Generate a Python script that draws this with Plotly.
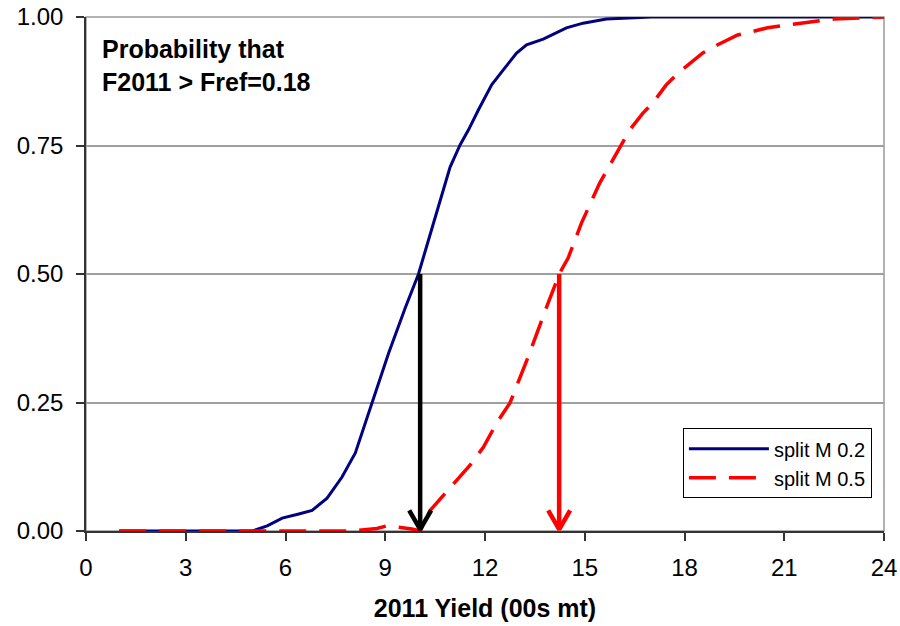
import plotly.graph_objects as go

# Cumulative probability that F2011 exceeds Fref, by 2011 yield (00s mt)
yield_m02 = [1, 2, 3, 4, 5, 5.45, 5.9, 6.4, 6.8, 7.25, 7.7, 8.1, 8.6, 9.1, 9.6,
             10.0, 10.25, 10.65, 10.95, 11.25, 11.5, 11.8, 12.2, 12.55, 12.95,
             13.25, 13.75, 14.45, 14.95, 15.65, 16.45, 17, 18, 19, 20, 21, 22, 23, 24]
prob_m02 = [0, 0, 0, 0, 0, 0.01, 0.025, 0.033, 0.04, 0.064, 0.105, 0.152, 0.249,
            0.346, 0.434, 0.5, 0.555, 0.644, 0.708, 0.751, 0.78, 0.819, 0.868,
            0.897, 0.93, 0.946, 0.957, 0.979, 0.988, 0.996, 0.999, 1, 1, 1, 1, 1, 1, 1, 1]

yield_m05 = [1, 2, 3, 4, 5, 6, 7, 8, 8.75, 9.05, 9.8, 10.05, 10.35, 10.85, 11.55,
             11.95, 12.35, 12.75, 13.3, 13.9, 14.25, 14.5, 14.9, 15.45, 15.95,
             16.35, 16.75, 17.05, 17.45, 17.85, 18.55, 19.0, 19.6, 20.5, 21.5,
             22.5, 24]
prob_m05 = [0, 0, 0, 0, 0, 0, 0, 0, 0.005, 0.01, 0.004, 0, 0.04, 0.076, 0.128,
            0.163, 0.21, 0.249, 0.339, 0.444, 0.502, 0.531, 0.599, 0.677, 0.735,
            0.78, 0.813, 0.833, 0.868, 0.893, 0.93, 0.946, 0.965, 0.979, 0.988,
            0.996, 1.0]

series_names = ["split M 0.2", "split M 0.5"]

# Median yields (probability 0.5) marked with down arrows
median_yield = [10.05, 14.23]
median_prob = 0.5
arrow_colors = ["#000000", "#FF0000"]

x_ticks = [0, 3, 6, 9, 12, 15, 18, 21, 24]
y_ticks = [0, 0.25, 0.5, 0.75, 1.0]

FONT = "Liberation Sans, Arial, sans-serif"

fig = go.Figure()

fig.add_trace(go.Scatter(
    x=yield_m02, y=prob_m02, mode="lines", name=series_names[0],
    line=dict(color="#000080", width=3), legendgroup="a",
))
fig.add_trace(go.Scatter(
    x=yield_m05, y=prob_m05, mode="lines", name=series_names[1],
    line=dict(color="#FF0000", width=3.5, dash="27px,13px"), legendgroup="b",
))

# Arrows: shaft plus an open chevron head at the axis
head_dx, head_dy = 0.33, 0.04
for xm, col in zip(median_yield, arrow_colors):
    fig.add_trace(go.Scatter(
        x=[xm, xm], y=[median_prob, 0.003], mode="lines",
        line=dict(color=col, width=4.5), showlegend=False, hoverinfo="skip",
    ))
    fig.add_trace(go.Scatter(
        x=[xm - head_dx, xm, xm + head_dx], y=[head_dy, 0.003, head_dy], mode="lines",
        line=dict(color=col, width=4.5), showlegend=False, hoverinfo="skip",
    ))

# Plot-area frame (grey on top/right)
fig.add_shape(type="rect", xref="paper", yref="paper", x0=0, x1=1, y0=0, y1=1,
              line=dict(color="#999999", width=1.5), layer="below")

fig.add_annotation(
    xref="paper", yref="paper", x=0.018, y=0.968, xanchor="left", yanchor="top",
    text="<b>Probability that<br>F2011 > Fref=0.18</b>", showarrow=False,
    align="left", font=dict(family=FONT, size=25, color="#000000"),
)

fig.update_layout(
    width=900, height=626,
    margin=dict(l=86, r=16, t=17, b=95),
    paper_bgcolor="white", plot_bgcolor="white",
    font=dict(family=FONT, color="#000000"),
    showlegend=True,
    legend=dict(
        x=0.748, y=0.2, xanchor="left", yanchor="top",
        bgcolor="white", bordercolor="#000000", borderwidth=1,
        font=dict(family=FONT, size=20, color="#000000"),
        itemwidth=80, traceorder="grouped", tracegroupgap=0,
    ),
    xaxis=dict(
        range=[0, 24], tickvals=x_ticks, ticktext=[str(v) for v in x_ticks],
        showgrid=False, zeroline=False, showline=True, linecolor="#333333", linewidth=1.5,
        ticks="outside", ticklen=8, tickcolor="#333333", tickwidth=1.5,
        tickfont=dict(family=FONT, size=24), ticklabelstandoff=6, automargin=False,
        title=dict(text="<b>2011 Yield (00s mt)</b>", font=dict(family=FONT, size=25),
                   standoff=20),
    ),
    yaxis=dict(
        range=[0, 1], tickvals=y_ticks, tickformat=".2f",
        showgrid=True, gridcolor="#A0A0A0", gridwidth=1.5, zeroline=False,
        showline=True, linecolor="#333333", linewidth=1.5,
        ticks="outside", ticklen=8, tickcolor="#333333", tickwidth=1.5,
        tickfont=dict(family=FONT, size=24), ticklabelstandoff=8, automargin=False,
    ),
)

fig.write_html("out.html")
